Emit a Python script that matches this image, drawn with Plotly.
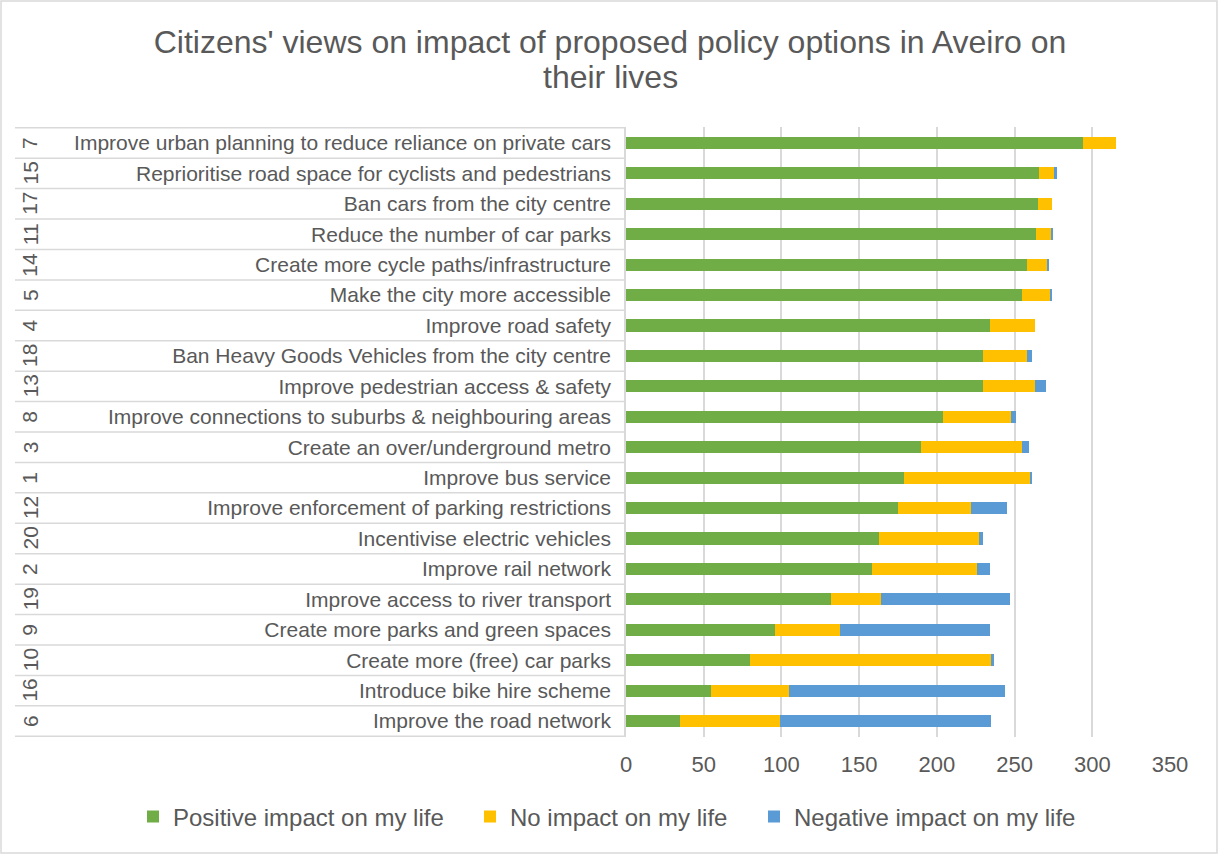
import plotly.graph_objects as go

numbers = ["7", "15", "17", "11", "14", "5", "4", "18", "13", "8",
           "3", "1", "12", "20", "2", "19", "9", "10", "16", "6"]
labels = [
    "Improve urban planning to reduce reliance on private cars",
    "Reprioritise road space for cyclists and pedestrians",
    "Ban cars from the city centre",
    "Reduce the number of car parks",
    "Create more cycle paths/infrastructure",
    "Make the city more accessible",
    "Improve road safety",
    "Ban Heavy Goods Vehicles from the city centre",
    "Improve pedestrian access & safety",
    "Improve connections to suburbs & neighbouring areas",
    "Create an over/underground metro",
    "Improve bus service",
    "Improve enforcement of parking restrictions",
    "Incentivise electric vehicles",
    "Improve rail network",
    "Improve access to river transport",
    "Create more parks and green spaces",
    "Create more (free) car parks",
    "Introduce bike hire scheme",
    "Improve the road network",
]
positive = [294, 266, 265, 264, 258, 255, 234, 230, 230, 204,
            190, 179, 175, 163, 158, 132, 96, 80, 55, 35]
no_impact = [21, 10, 9, 10, 13, 18, 29, 28, 33, 44,
             65, 81, 47, 64, 68, 32, 42, 155, 50, 64]
negative = [0, 1, 0, 1, 1, 1, 0, 3, 7, 3,
            4, 1, 23, 3, 8, 83, 96, 2, 139, 136]

series = [
    ("Positive impact on my life", positive, "#70AD47"),
    ("No impact on my life", no_impact, "#FFC000"),
    ("Negative impact on my life", negative, "#5B9BD5"),
]

GREY = "#595959"
LINE = "#D9D9D9"
FONT = "Liberation Sans, Arial, sans-serif"

W, H = 1220, 855
L, R, T, B = 626, 50, 127, 118
pw = W - L - R
ph = H - T - B


def px_x(x):
    return (x - L) / pw


def px_y(y):
    return (H - B - y) / ph


legend_ids = ["legend", "legend2", "legend3"]
legend_text_x = [173, 510, 794]

fig = go.Figure()
for (name, vals, col), lid in zip(series, legend_ids):
    fig.add_trace(go.Bar(
        y=labels, x=vals, name=name, orientation="h",
        marker=dict(color=col, line=dict(width=0)),
        legend=lid, showlegend=True,
    ))

shapes = []
n = len(labels)
for i in range(n + 1):
    shapes.append(dict(type="line", xref="paper", yref="y",
                       x0=px_x(15), x1=0, y0=i - 0.5, y1=i - 0.5,
                       line=dict(color=LINE, width=1.5)))
shapes.append(dict(type="rect", xref="paper", yref="paper",
                   x0=px_x(1), x1=px_x(1217), y0=px_y(853), y1=px_y(1),
                   line=dict(color=LINE, width=1.5), fillcolor="rgba(0,0,0,0)",
                   layer="below"))

annotations = []
for num, lab in zip(numbers, labels):
    annotations.append(dict(x=px_x(30), xref="paper", y=lab, yref="y",
                            text=num, textangle=-90, showarrow=False,
                            font=dict(family=FONT, size=21, color=GREY),
                            xanchor="center", yanchor="middle"))
annotations.append(dict(x=px_x(610), xref="paper", y=px_y(77), yref="paper",
                        text="their lives", showarrow=False,
                        font=dict(family=FONT, size=32, color=GREY),
                        xanchor="center", yanchor="middle"))

legends = {}
for lid, tx in zip(legend_ids, legend_text_x):
    legends[lid] = dict(
        orientation="h", xref="paper", x=px_x(tx - 40), xanchor="left",
        yref="paper", y=px_y(817), yanchor="middle",
        font=dict(family=FONT, size=24, color=GREY),
        bgcolor="rgba(0,0,0,0)",
    )

fig.update_layout(
    width=W, height=H,
    showlegend=True,
    margin=dict(l=L, r=R, t=T, b=B, pad=0, autoexpand=False),
    barmode="stack",
    bargap=0.6,
    paper_bgcolor="white", plot_bgcolor="white",
    font=dict(family=FONT, color=GREY),
    title=dict(
        text="Citizens' views on impact of proposed policy options in Aveiro on",
        x=610 / W, xanchor="center", xref="container",
        y=1 - 42 / H, yanchor="middle", yref="container",
        font=dict(family=FONT, size=32, color=GREY),
    ),
    xaxis=dict(
        range=[0, 350], tickvals=[0, 50, 100, 150, 200, 250, 300, 350],
        showgrid=True, gridcolor=LINE, gridwidth=1.5,
        zeroline=False, showline=False,
        tickfont=dict(family=FONT, size=22, color=GREY),
        ticks="", ticklabelstandoff=12,
    ),
    yaxis=dict(
        type="category", categoryorder="array", categoryarray=labels,
        autorange="reversed",
        showgrid=False, zeroline=False,
        showline=True, linecolor=LINE, linewidth=1.5,
        ticks="", ticklabelstandoff=9,
        tickfont=dict(family=FONT, size=21, color=GREY),
    ),
    shapes=shapes,
    annotations=annotations,
    **legends,
)

fig.write_html("out.html", config={"displayModeBar": False},
               post_script="document.body.style.margin='0';")
